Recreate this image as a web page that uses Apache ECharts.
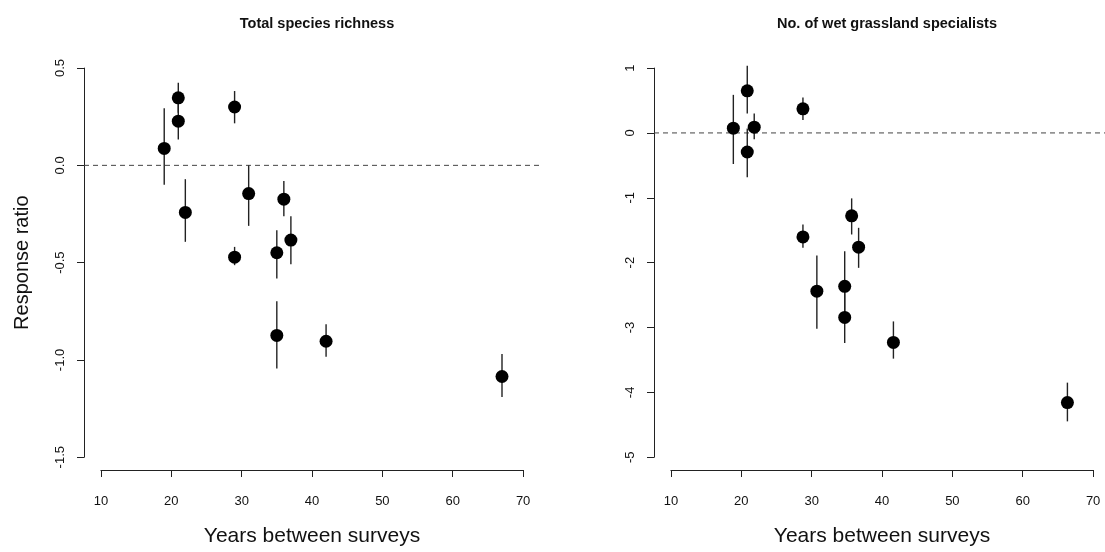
<!DOCTYPE html>
<html>
<head>
<meta charset="utf-8">
<script src="https://cdn.jsdelivr.net/npm/echarts@6/dist/echarts.min.js"></script>
<style>
html,body{margin:0;padding:0;background:#fff;}
#chart{width:1105px;height:552px;}
</style>
</head>
<body>
<div id="chart"></div>
<script>
// ---- data ----
const years = [19, 21, 21, 22, 29, 29, 31, 35, 35, 36, 37, 42, 67];

const richMean = [0.087, 0.347, 0.227, -0.242, 0.30, -0.472, -0.145, -0.449, -0.874, -0.174, -0.384, -0.904, -1.085];
const richLow  = [-0.10, 0.27, 0.133, -0.393, 0.216, -0.513, -0.311, -0.581, -1.044, -0.261, -0.508, -0.984, -1.19];
const richHigh = [0.293, 0.424, 0.32, -0.071, 0.382, -0.419, 0.0, -0.333, -0.698, -0.081, -0.261, -0.816, -0.969];

const wetMean = [0.073, 0.649, -0.294, 0.088, 0.371, -1.603, -2.44, -2.365, -2.844, -1.278, -1.762, -3.23, -4.158];
const wetLow  = [-0.479, 0.30, -0.685, -0.097, 0.20, -1.77, -3.02, -2.9, -3.24, -1.566, -2.08, -3.48, -4.447];
const wetHigh = [0.587, 1.036, 0.07, 0.30, 0.546, -1.41, -1.89, -1.824, -2.44, -1.009, -1.463, -2.906, -3.85];

const xTicks = {min: 10, max: 70, interval: 10};
const richTicks = {min: -1.5, max: 0.5, interval: 0.5};
const wetTicks = {min: -5, max: 1, interval: 1};

const titles = ['Total species richness', 'No. of wet grassland specialists'];
const xTitle = 'Years between surveys';
const yTitle = 'Response ratio';

// ---- layout ----
const FONT = 'Liberation Sans, Arial, Helvetica, sans-serif';
const plotTop = 52.5, plotBottom = 472.8;
const panels = [
  {left: 84, right: 540, ticks: richTicks, mean: richMean, low: richLow, high: richHigh, fmt: v => v.toFixed(1), yName: yTitle},
  {left: 654, right: 1110, ticks: wetTicks, mean: wetMean, low: wetLow, high: wetHigh, fmt: v => String(v), yName: ''}
];

function ext(t){ const d = (t.max - t.min) * 0.04; return [t.min - d, t.max + d]; }

const grid = [], xAxis = [], yAxis = [], series = [], title = [];
const axisStyle = {lineStyle: {color: '#222', width: 1}};
panels.forEach((p, i) => {
  const W = p.right - p.left, H = plotBottom - plotTop;
  const [ux0, ux1] = ext(xTicks), [uy0, uy1] = ext(p.ticks);
  const xpx = v => p.left + (v - ux0) / (ux1 - ux0) * W;
  const ypx = v => plotTop + (uy1 - v) / (uy1 - uy0) * H;
  const g = grid.length;
  // data grid
  grid.push({left: p.left, top: plotTop, width: W, height: H});
  xAxis.push({gridIndex: g, type: 'value', min: ux0, max: ux1, show: false});
  yAxis.push({gridIndex: g, type: 'value', min: uy0, max: uy1, show: false});
  // x axis display grid
  const gx0 = xpx(xTicks.min), gx1 = xpx(xTicks.max);
  grid.push({left: gx0, top: plotTop, width: gx1 - gx0, height: H});
  xAxis.push({gridIndex: g + 1, type: 'value', position: 'bottom', min: xTicks.min, max: xTicks.max, interval: xTicks.interval,
    axisLine: axisStyle, axisTick: {show: true, inside: false, length: 7, lineStyle: {color: '#222'}},
    splitLine: {show: false},
    axisLabel: {show: true, margin: 25, color: '#111', fontSize: 13, fontFamily: FONT, showMinLabel: true, showMaxLabel: true},
    name: xTitle, nameLocation: 'middle', nameGap: 56,
    nameTextStyle: {fontSize: 21, color: '#111', fontFamily: FONT}});
  yAxis.push({gridIndex: g + 1, type: 'value', show: false});
  // y axis display grid
  const gy0 = ypx(p.ticks.max), gy1 = ypx(p.ticks.min);
  grid.push({left: p.left, top: gy0, width: W, height: gy1 - gy0});
  xAxis.push({gridIndex: g + 2, type: 'value', show: false});
  yAxis.push({gridIndex: g + 2, type: 'value', position: 'left', min: p.ticks.min, max: p.ticks.max, interval: p.ticks.interval,
    axisLine: Object.assign({show: true}, axisStyle), axisTick: {show: true, inside: false, length: 7, lineStyle: {color: '#222'}},
    splitLine: {show: false},
    axisLabel: {show: true, rotate: 90, margin: 17, color: '#111', fontSize: 13, fontFamily: FONT, formatter: p.fmt, showMinLabel: true, showMaxLabel: true},
    name: p.yName, nameLocation: 'middle', nameGap: 52,
    nameTextStyle: {fontSize: 20, color: '#111', fontFamily: FONT}});

  title.push({text: titles[i], left: (p.left + p.right) / 2, top: 11, textAlign: 'center',
    textStyle: {fontSize: 14.5, fontWeight: 'bold', color: '#111', fontFamily: FONT}});

  // dashed zero line
  series.push({type: 'line', xAxisIndex: g, yAxisIndex: g, data: [[ux0, 0], [ux1, 0]], symbol: 'none', silent: true,
    lineStyle: {color: '#444', width: 1, type: [5, 4]}, z: 1});
  // error bars
  series.push({type: 'custom', xAxisIndex: g, yAxisIndex: g, z: 2,
    data: years.map((y, k) => [y, p.low[k], p.high[k]]),
    renderItem: (params, api) => {
      const a = api.coord([api.value(0), api.value(1)]);
      const b = api.coord([api.value(0), api.value(2)]);
      return {type: 'line', shape: {x1: a[0], y1: a[1], x2: b[0], y2: b[1]}, style: {stroke: '#222', lineWidth: 1.4}};
    }});
  // points
  series.push({type: 'scatter', xAxisIndex: g, yAxisIndex: g, z: 3, symbol: 'circle', symbolSize: 13,
    itemStyle: {color: '#000', opacity: 1}, data: years.map((y, k) => [y, p.mean[k]])});
});

const chart = echarts.init(document.getElementById('chart'), null, {renderer: 'canvas'});
chart.setOption({animation: false, backgroundColor: '#fff', title, grid, xAxis, yAxis, series});
</script>
</body>
</html>
